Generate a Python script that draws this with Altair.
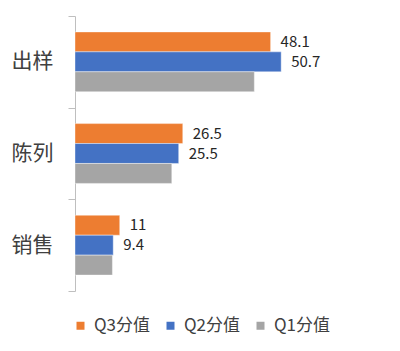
import altair as alt
import pandas as pd

categories = ["出样", "陈列", "销售"]
series = ["Q3分值", "Q2分值", "Q1分值"]
q3 = [48.1, 26.5, 11]
q2 = [50.7, 25.5, 9.4]
q1 = [44.1, 23.8, 9.2]
colors = ["#ED7D31", "#4472C4", "#A5A5A5"]

rows = []
for s, vals in zip(series, [q3, q2, q1]):
    for c, v in zip(categories, vals):
        rows.append({"cat": c, "series": s, "value": v, "label": f"{v:g}"})
df = pd.DataFrame(rows)

FONT = "Noto Sans CJK SC"

yscale = alt.Scale(domain=categories, paddingInner=0, paddingOuter=0)
yoff = alt.YOffset("series:N", sort=series, scale=alt.Scale(domain=series, paddingInner=0, paddingOuter=0.8))
xenc = alt.X("value:Q", axis=None, scale=alt.Scale(domain=[0, 75]))
yenc = alt.Y("cat:N", sort=categories, scale=yscale, title=None,
             axis=alt.Axis(orient="left", tickBand="extent", tickSize=7,
                           labelPadding=15, labelFontSize=21, labelFont=FONT,
                           labelColor="#404040", domainColor="#BFBFBF", tickColor="#BFBFBF",
                           grid=False, labelAngle=0))

bars = alt.Chart(df).mark_bar(stroke="white", strokeWidth=0.4).encode(
    x=xenc,
    y=yenc,
    yOffset=yoff,
    color=alt.Color("series:N", sort=series,
                    scale=alt.Scale(domain=series, range=colors),
                    legend=alt.Legend(title=None, orient="none", direction="horizontal",
                                      legendX=-3, legendY=301, symbolType="square",
                                      symbolSize=64, symbolStrokeWidth=0,
                                      labelFontSize=17, labelFont=FONT, labelColor="#404040",
                                      columnPadding=11, labelOffset=5)),
)

labels = alt.Chart(df).transform_filter(alt.datum.series != "Q1分值").mark_text(
    align="left", baseline="middle", dx=10, fontSize=15, font=FONT, color="#262626"
).encode(
    x=xenc,
    y=yenc,
    yOffset=yoff,
    text="label:N",
)

chart = alt.layer(bars, labels).properties(
    width=305, height=275,
    background="white",
    autosize=alt.AutoSizeParams(type="none"),
    padding={"left": 75, "top": 16, "right": 20, "bottom": 60},
).configure_view(stroke=None)

chart.save("out.html", embed_options={"renderer": "svg", "actions": False})
